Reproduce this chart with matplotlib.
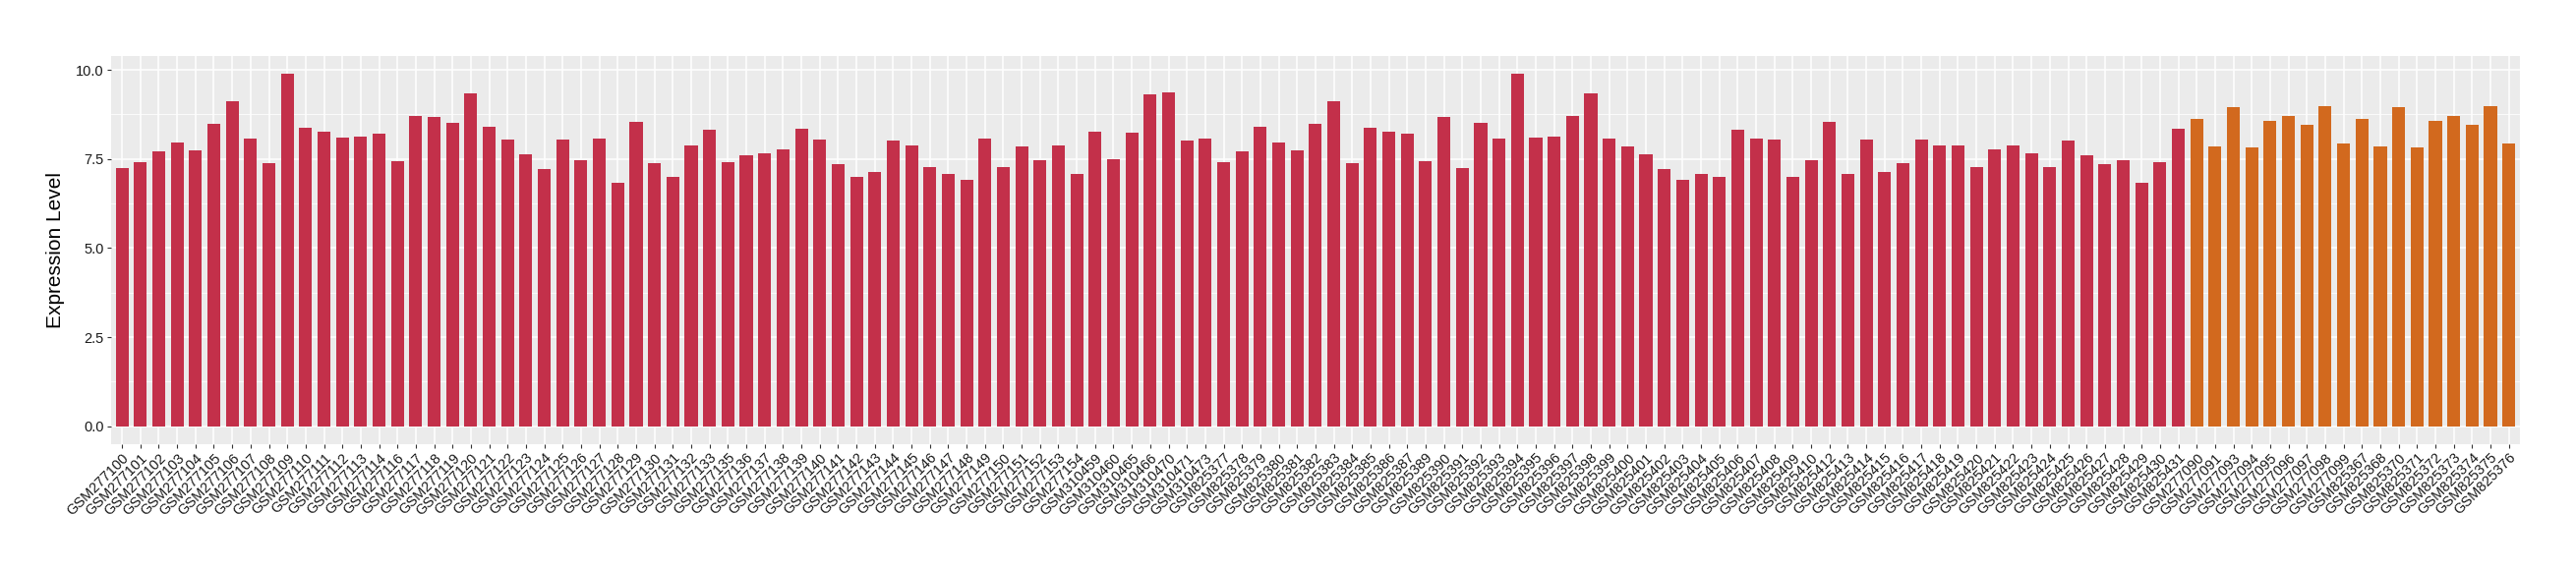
import matplotlib
matplotlib.use("Agg")
import matplotlib.pyplot as plt
from matplotlib.ticker import MultipleLocator

plt.rcParams['font.family'] = ['Liberation Sans', 'DejaVu Sans']

# sample ids, split by group
samples_a = (["GSM2771%02d" % i for i in list(range(0, 15)) + list(range(16, 34)) + list(range(35, 55))]
             + ["GSM310459", "GSM310460", "GSM310465", "GSM310466", "GSM310470", "GSM310471", "GSM310473"]
             + ["GSM825%d" % i for i in list(range(377, 388)) + list(range(389, 411)) + list(range(412, 432))])
samples_b = (["GSM2770%d" % i for i in [90, 91, 93, 94, 95, 96, 97, 98, 99]]
             + ["GSM825%d" % i for i in [367, 368, 370, 371, 372, 373, 374, 375, 376]])

# expression values
values_a = [7.24, 7.41, 7.71, 7.96, 7.74, 8.49, 9.12, 8.07, 7.38, 9.90,
            8.38, 8.27, 8.10, 8.13, 8.21, 7.44, 8.71, 8.68, 8.51, 9.35,
            8.40, 8.04, 7.63, 7.21, 8.04, 7.46, 8.07, 6.83, 8.54, 7.38,
            6.99, 7.88, 8.32, 7.41, 7.60, 7.66, 7.77, 8.35, 8.04, 7.35,
            6.99, 7.13, 8.02, 7.88, 7.27, 7.08, 6.91, 8.07, 7.27, 7.85,
            7.46, 7.88, 7.08,
            8.27, 7.49, 8.24, 9.32, 9.37, 8.02, 8.07,
            7.41, 7.71, 8.40, 7.96, 7.74, 8.49, 9.12, 7.38, 8.38, 8.27,
            8.21, 7.44, 8.68, 7.24, 8.51, 8.07, 9.90, 8.10, 8.13, 8.71,
            9.35, 8.07, 7.85, 7.63, 7.21, 6.91, 7.08, 6.99, 8.32, 8.07,
            8.04, 6.99, 7.46, 8.54, 7.08, 8.04, 7.13, 7.38, 8.04, 7.88,
            7.88, 7.27, 7.77, 7.88, 7.66, 7.27, 8.02, 7.60, 7.35, 7.46,
            6.83, 7.41, 8.35]
values_b = [8.63, 7.85, 8.96, 7.82, 8.57, 8.71, 8.46, 8.99, 7.93,
            8.63, 7.85, 8.96, 7.82, 8.57, 8.71, 8.46, 8.99, 7.93]

color_a = "#C3304A"
color_b = "#D2691E"

labels = samples_a + samples_b
values = values_a + values_b
colors = [color_a] * len(values_a) + [color_b] * len(values_b)

fig = plt.figure(figsize=(26.2, 5.8), dpi=100)
ax = fig.add_axes([0.0431, 0.2212, 0.9351, 0.681])

ax.set_facecolor("#EBEBEB")
x = list(range(len(values)))
ax.bar(x, values, width=0.7, color=colors, zorder=3)

ax.set_xlim(-0.6, len(values) - 1 + 0.6)
ax.set_ylim(-0.495, 10.395)
ax.yaxis.set_major_locator(MultipleLocator(2.5))
ax.yaxis.set_minor_locator(MultipleLocator(1.25))
ax.set_yticks([0, 2.5, 5, 7.5, 10])
ax.set_yticklabels(["0.0", "2.5", "5.0", "7.5", "10.0"])
ax.set_xticks(x)
ax.set_xticklabels(labels, rotation=45, ha="right", rotation_mode="anchor")

ax.grid(which="major", color="white", linewidth=1.1, zorder=0)
ax.grid(which="minor", axis="y", color="white", linewidth=0.55, zorder=0)
ax.set_axisbelow(True)
for s in ax.spines.values():
    s.set_visible(False)

ax.tick_params(axis="both", which="major", length=3, width=0.8, color="#333333",
               labelsize=10.5, labelcolor="#1a1a1a", pad=2)
ax.tick_params(axis="y", which="minor", length=0)

ax.set_ylabel("Expression Level", fontsize=15)
ax.yaxis.set_label_coords(-0.019, 0.5)

fig.savefig("out.png", dpi=100)
